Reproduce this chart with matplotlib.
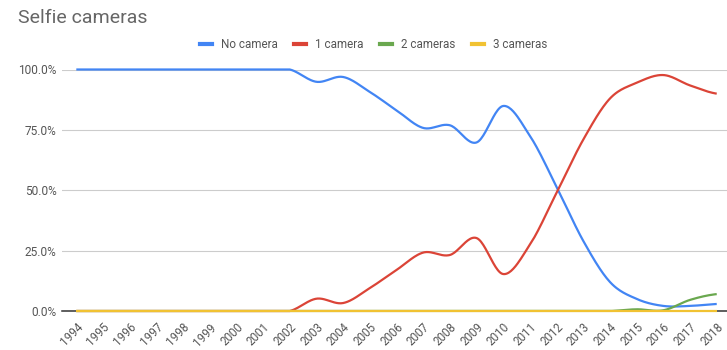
import matplotlib.pyplot as plt
import numpy as np
from matplotlib.lines import Line2D

plt.rcParams["font.family"] = ["Roboto", "DejaVu Sans"]

years = list(range(1994, 2019))
no_camera = [100, 100, 100, 100, 100, 100, 100, 100, 100, 94.9, 96.9, 90.7, 83.1, 75.8,
             76.9, 69.8, 84.9, 72.5, 51.4, 29.0, 12.0, 5.0, 2.1, 2.1, 2.9]
one_camera = [0, 0, 0, 0, 0, 0, 0, 0, 0, 5.1, 3.3, 9.5, 17.0, 24.2,
              23.2, 30.2, 15.3, 27.5, 49.0, 71.0, 88.0, 94.5, 97.7, 93.4, 90.0]
two_cameras = [0] * 21 + [0.7, 0.3, 4.6, 7.0]
three_cameras = [0] * 25

series_names = ["No camera", "1 camera", "2 cameras", "3 cameras"]
series_values = [no_camera, one_camera, two_cameras, three_cameras]
colors = ["#4285f4", "#db4437", "#6aa84f", "#f1c232"]


def smooth(xs, ys, n=24):
    # catmull-rom so the lines look like the "function" curve of the original
    xs = np.asarray(xs, float)
    ys = np.asarray(ys, float)
    py = np.concatenate([[ys[0]], ys, [ys[-1]]])
    out_x, out_y = [], []
    t = np.linspace(0, 1, n, endpoint=False)
    for i in range(1, len(py) - 2):
        y0, y1, y2, y3 = py[i - 1:i + 3]
        c1y = y1 + (y2 - y0) / 6
        c2y = y2 - (y3 - y1) / 6
        bx = xs[i - 1] + (xs[i] - xs[i - 1]) * t
        by = ((1 - t) ** 3 * y1 + 3 * (1 - t) ** 2 * t * c1y
              + 3 * (1 - t) * t ** 2 * c2y + t ** 3 * y2)
        out_x.append(bx)
        out_y.append(by)
    out_x.append([xs[-1]])
    out_y.append([ys[-1]])
    return np.concatenate(out_x), np.clip(np.concatenate(out_y), 0, 100)


fig = plt.figure(figsize=(7.27, 3.5), dpi=100)
ax = fig.add_axes([62.3 / 727, 39 / 350, 1 - 62.3 / 727, 241.5 / 350])

for name, vals, col in zip(series_names, series_values, colors):
    sx, sy = smooth(years, vals)
    ax.plot(sx, sy, color=col, lw=1.6, clip_on=False, solid_capstyle="butt", label=name)

ax.set_xlim(1993.475, 2018.385)
ax.set_ylim(0, 100)
ax.set_yticks([0, 25, 50, 75, 100])
ax.set_yticklabels(["0.0%", "25.0%", "50.0%", "75.0%", "100.0%"])
ax.yaxis.grid(True, color="#cccccc", lw=0.8)
ax.set_axisbelow(True)
for side in ["top", "right", "left"]:
    ax.spines[side].set_visible(False)
ax.spines["bottom"].set_color("#333333")
ax.spines["bottom"].set_linewidth(1.1)
ax.spines["bottom"].set_zorder(1)

ax.set_xticks(years)
ax.set_xticklabels([str(y) for y in years], rotation=45, ha="right", va="top",
                   rotation_mode="anchor")
ax.tick_params(axis="both", length=0, labelsize=8.6, labelcolor="#555555")
ax.tick_params(axis="x", pad=7, labelsize=8.4)
ax.tick_params(axis="y", pad=4)

fig.text(17.7 / 727, 1 - 23 / 350, "Selfie cameras", fontsize=14, color="#666666",
         va="baseline", ha="left")

handles = [Line2D([], [], color=c, lw=3) for c in colors]
fig.legend(handles, series_names, loc="center", bbox_to_anchor=(373.4 / 727, 1 - 45 / 350),
           ncol=4, frameon=False, fontsize=8.4, labelcolor="#555555",
           handlelength=1.05, handletextpad=0.75, columnspacing=1.4)

fig.savefig("out.png", dpi=100)
